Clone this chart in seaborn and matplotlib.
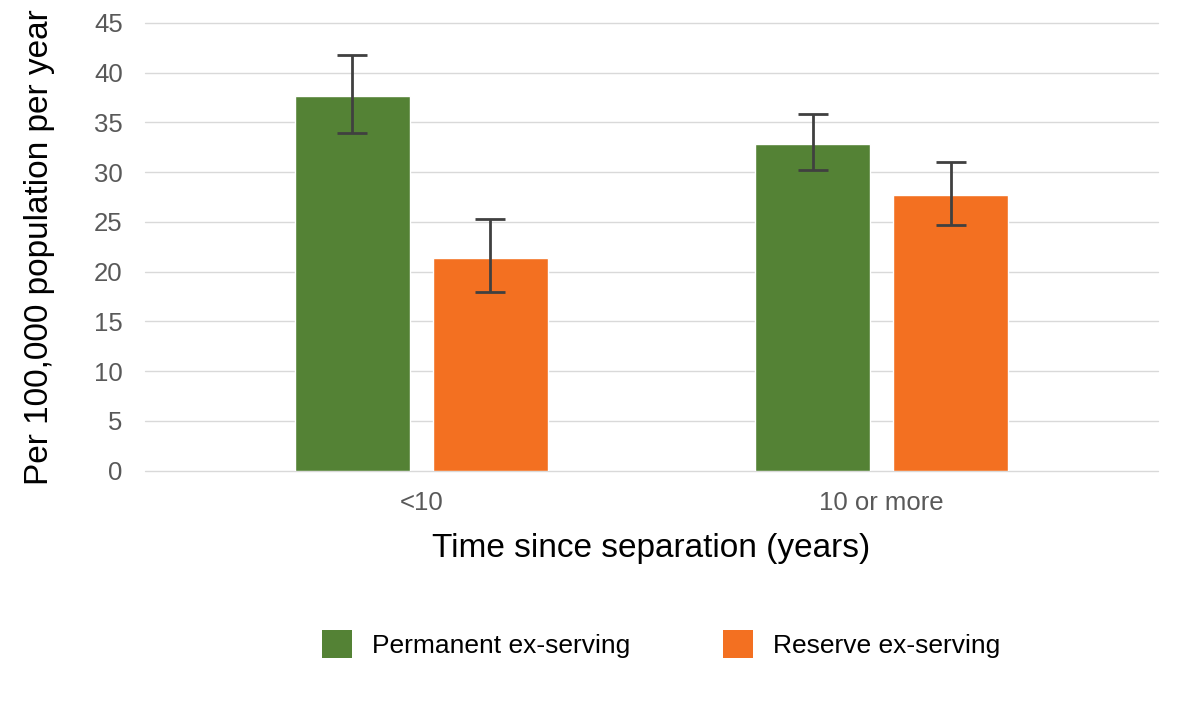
import matplotlib
matplotlib.use("Agg")
import matplotlib.pyplot as plt
import seaborn as sns
import pandas as pd
import numpy as np
from matplotlib.patches import Patch

# ---- data ----
categories = ["<10", "10 or more"]
series = ["Permanent ex-serving", "Reserve ex-serving"]
permanent_rate = [37.7, 32.8]
permanent_low = [33.9, 30.2]
permanent_high = [41.8, 35.8]
reserve_rate = [21.4, 27.7]
reserve_low = [17.9, 24.7]
reserve_high = [25.3, 31.0]
y_ticks = [0, 5, 10, 15, 20, 25, 30, 35, 40, 45]

colors = ["#548235", "#F37021"]

df = pd.DataFrame({
    "category": categories * 2,
    "series": [series[0]] * 2 + [series[1]] * 2,
    "rate": permanent_rate + reserve_rate,
})
lows = [permanent_low, reserve_low]
highs = [permanent_high, reserve_high]
rates = [permanent_rate, reserve_rate]

sns.set_theme(style="white")
plt.rcParams["font.family"] = ["Liberation Sans", "DejaVu Sans"]

fig = plt.figure(figsize=(11.81, 7.08), dpi=100)
ax = fig.add_axes([145 / 1181, 1 - 470.5 / 708, (1158 - 145) / 1181, (470.5 - 23) / 708])

sns.barplot(data=df, x="category", y="rate", hue="series", order=categories,
            hue_order=series, palette=colors, width=0.6, gap=1 / 6,
            errorbar=None, saturation=1, legend=False, ax=ax, zorder=2)

bar_containers = list(ax.containers)
for i, cont in enumerate(bar_containers):
    xs = [p.get_x() + p.get_width() / 2 for p in cont.patches]
    r = np.array(rates[i])
    lo = r - np.array(lows[i])
    hi = np.array(highs[i]) - r
    ax.errorbar(xs, r, yerr=[lo, hi], fmt="none", ecolor="#404040",
                elinewidth=2, capsize=11, capthick=2, zorder=3)

ax.set_ylim(0, 45)
ax.set_xlim(-0.6, 1.6)
ax.set_yticks(y_ticks)
ax.yaxis.grid(True, color="#d9d9d9", linewidth=1)
for gl in ax.get_ygridlines():
    gl.set_clip_on(False)
ax.set_axisbelow(True)
for s in ax.spines.values():
    s.set_visible(False)
ax.tick_params(axis="both", length=0, labelsize=18.5, labelcolor="#595959")
ax.tick_params(axis="y", pad=16)
ax.tick_params(axis="x", pad=15)
ax.set_xlabel("Time since separation (years)", fontsize=24, color="black", labelpad=13)
ax.set_ylabel("Per 100,000 population per year", fontsize=24, color="black")
ax.yaxis.set_label_coords((55 - 145) / (1158 - 145), 0.5)

handles = [Patch(facecolor=c, edgecolor="none") for c in colors]
fig.legend(handles, series, loc="center", bbox_to_anchor=(661 / 1181, 1 - 644 / 708),
           ncol=2, frameon=False, fontsize=19, handlelength=1.14, handleheight=1.3,
           handletextpad=0.76, columnspacing=3.5, labelcolor="black")

fig.savefig("out.png", dpi=100)
